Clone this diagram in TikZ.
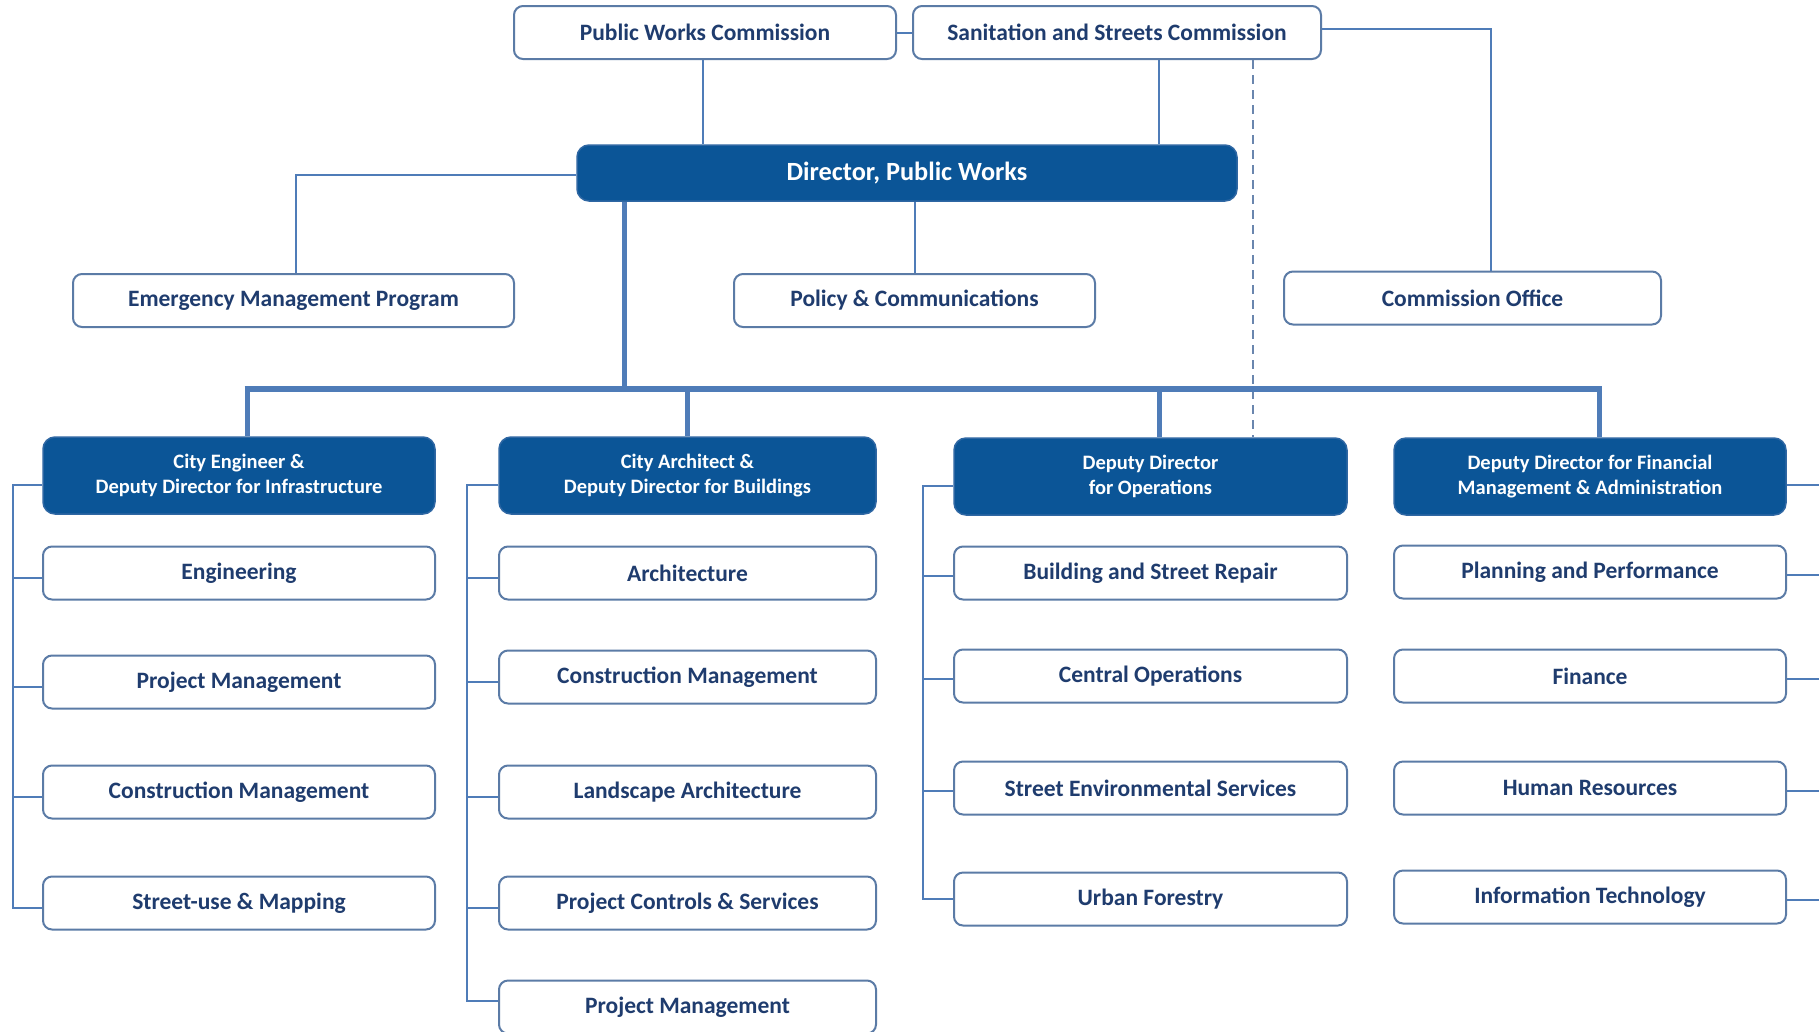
\documentclass[tikz,border=0pt]{standalone}
\usepackage{fontspec}
\setmainfont{Carlito}
\definecolor{headfill}{HTML}{0B5597}
\definecolor{headdraw}{HTML}{2F67A3}
\definecolor{boxdraw}{HTML}{5B7BA6}
\definecolor{txtnavy}{HTML}{1F3C6E}
\definecolor{linecol}{HTML}{4F7CB8}
\definecolor{dashcol}{HTML}{6A86AE}
\begin{document}
\begin{tikzpicture}[x=1pt,y=-1pt,
  wbox/.style={draw=boxdraw, line width=2pt, fill=white, rounded corners=9pt,
    text=txtnavy, font=\bfseries\fontsize{23.5}{28}\selectfont,
    minimum height=53pt, inner sep=0pt, align=center},
  hbox/.style={draw=headdraw, line width=1.5pt, fill=headfill, rounded corners=12pt,
    text=white, font=\bfseries\fontsize{20.5}{25.5}\selectfont,
    minimum height=77pt, inner sep=0pt, align=center},
  dbox/.style={hbox, minimum height=56pt, font=\bfseries\fontsize{26.3}{31}\selectfont},
  thin/.style={draw=linecol, line width=2pt},
  busline/.style={draw=linecol, line width=6pt},
  dropline/.style={draw=linecol, line width=5pt},
  dashline/.style={draw=dashcol, line width=1.6pt, dash pattern=on 9pt off 6pt}]
\useasboundingbox (0,0) rectangle (1819,1031);
\clip (0,0) rectangle (1819,1031);
\fill[white] (0,0) rectangle (1819,1031);

% rails / free-end coordinates
\coordinate (rail1) at (13,0);
\coordinate (rail2) at (467,0);
\coordinate (rail3) at (923,0);
\coordinate (rail4) at (1819,0);
\coordinate (busA) at (247,389);
\coordinate (busB) at (687,389);
\coordinate (busC) at (1159,389);
\coordinate (busD) at (1599,389);
\coordinate (busS) at (624,389);

% ---------- boxes ----------
\node[wbox, minimum width=382pt] (pwc) at (705,32.5) {Public Works Commission};
\node[wbox, minimum width=408pt] (ssc) at (1117,32.5) {Sanitation and Streets Commission};
\node[dbox, minimum width=660pt] (dir) at (907,173) {Director, Public Works};
\node[wbox, minimum width=441pt] (emp) at (293.5,300.5) {Emergency Management Program};
\node[wbox, minimum width=361pt] (pol) at (914.5,300.5) {Policy \& Communications};
\node[wbox, minimum width=377pt] (co) at (1472.5,298) {Commission Office};

\node[hbox, minimum width=392pt] (h1) at (239,475.5) {City Engineer \&\\Deputy Director for Infrastructure};
\node[hbox, minimum width=377pt] (h2) at (687.5,475.5) {City Architect \&\\Deputy Director for Buildings};
\node[hbox, minimum width=393pt] (h3) at (1150.5,476.5) {Deputy Director\\for Operations};
\node[hbox, minimum width=392pt] (h4) at (1590,476.5) {Deputy Director for Financial\\Management \& Administration};

% column 1
\node[wbox, minimum width=392pt] (c11) at (239,573) {Engineering};
\node[wbox, minimum width=392pt] (c12) at (239,682) {Project Management};
\node[wbox, minimum width=392pt] (c13) at (239,792) {Construction Management};
\node[wbox, minimum width=392pt] (c14) at (239,903) {Street-use \& Mapping};
% column 2
\node[wbox, minimum width=377pt] (c21) at (687.5,573) {Architecture};
\node[wbox, minimum width=377pt] (c22) at (687.5,677) {Construction Management};
\node[wbox, minimum width=377pt] (c23) at (687.5,792) {Landscape Architecture};
\node[wbox, minimum width=377pt] (c24) at (687.5,903) {Project Controls \& Services};
\node[wbox, minimum width=377pt] (c25) at (687.5,1007) {Project Management};
% column 3
\node[wbox, minimum width=393pt] (c31) at (1150.5,573) {Building and Street Repair};
\node[wbox, minimum width=393pt] (c32) at (1150.5,676) {Central Operations};
\node[wbox, minimum width=393pt] (c33) at (1150.5,788) {Street Environmental Services};
\node[wbox, minimum width=393pt] (c34) at (1150.5,899) {Urban Forestry};
% column 4
\node[wbox, minimum width=392pt] (c41) at (1590,572) {Planning and Performance};
\node[wbox, minimum width=392pt] (c42) at (1590,676) {Finance};
\node[wbox, minimum width=392pt] (c43) at (1590,788) {Human Resources};
\node[wbox, minimum width=392pt] (c44) at (1590,897) {Information Technology};

% top connectors
\draw[thin] (pwc.east) -- (ssc.west);
\draw[thin] ([xshift=-2]pwc.south) -- ([xshift=-2]pwc.south |- dir.north);
\draw[thin] ([xshift=42]ssc.south) -- ([xshift=42]ssc.south |- dir.north);
\draw[thin] ([yshift=4]ssc.east) -| ([xshift=18]co.north);
\draw[dashline] ([xshift=136]ssc.south) -- ([xshift=136]ssc.south |- h3.north);
\draw[thin] ([yshift=-2]dir.west) -| ([xshift=2.5]emp.north);
\draw[thin] (dir.south -| pol.north) -- (pol.north);

% bus
\draw[dropline] (dir.south -| busS) -- (busS);
\draw[busline] ([xshift=-2.5]busA) -- ([xshift=2.5]busD);
\draw[dropline] (busA) -- (busA |- h1.north);
\draw[dropline] (busB) -- (busB |- h2.north);
\draw[dropline] (busC) -- (busC |- h3.north);
\draw[dropline] (busD) -- (busD |- h4.north);

% column rails
\draw[thin] ([yshift=-9]h1.west) -- ([yshift=-9]h1.west -| rail1) -- ([yshift=-5]c14.west -| rail1) -- ([yshift=-5]c14.west);
\foreach \n in {c11,c12,c13} \draw[thin] ([yshift=-5]\n.west) -- ([yshift=-5]\n.west -| rail1);
\draw[thin] ([yshift=-9]h2.west) -- ([yshift=-9]h2.west -| rail2) -- ([yshift=6]c25.west -| rail2) -- ([yshift=6]c25.west);
\foreach \n in {c21,c22,c23,c24} \draw[thin] ([yshift=-5]\n.west) -- ([yshift=-5]\n.west -| rail2);
\draw[thin] ([yshift=-9]h3.west) -- ([yshift=-9]h3.west -| rail3) -- (c34.west -| rail3) -- (c34.west);
\foreach \n in {c31,c32,c33} \draw[thin] ([yshift=-3]\n.west) -- ([yshift=-3]\n.west -| rail3);
\draw[thin] ([yshift=-8]h4.east) -- ([yshift=-8]h4.east -| rail4);
\foreach \n in {c41,c42,c43,c44} \draw[thin] ([yshift=-3]\n.east) -- ([yshift=-3]\n.east -| rail4);
\end{tikzpicture}
\end{document}
